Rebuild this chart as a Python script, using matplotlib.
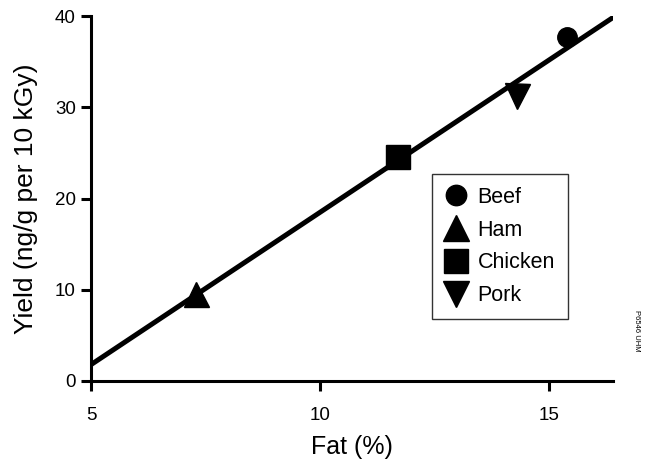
import numpy as np
import matplotlib
matplotlib.use("Agg")
import matplotlib.pyplot as plt

plt.rcParams["font.family"] = ["Liberation Sans", "DejaVu Sans"]

# Fat content vs. yield for each meat
meats = ["Beef", "Ham", "Chicken", "Pork"]
fat_pct = [15.4, 7.3, 11.7, 14.3]
yield_ng = [37.7, 9.5, 24.6, 31.2]
markers = ["o", "^", "s", "v"]
marker_sizes = [14, 18, 17, 18]

x_ticks = [5, 10, 15]
y_ticks = [0, 10, 20, 30, 40]

fig = plt.figure(figsize=(6.6, 4.59), dpi=100)
ax = fig.add_axes([0.138, 0.170, 0.791, 0.795])

# least squares line through the four points
slope, intercept = np.polyfit(fat_pct, yield_ng, 1)
xl = np.array([5, 16.4])
ax.plot(xl, slope * xl + intercept, color="black", lw=3.6, solid_capstyle="round", zorder=2)

for name, fx, fy, m, ms in zip(meats, fat_pct, yield_ng, markers, marker_sizes):
    ax.plot(fx, fy, linestyle="none", marker=m, markersize=ms, color="black",
            label=name, zorder=3)

ax.set_xlim(5, 16.4)
ax.set_ylim(0, 40)
ax.set_xticks(x_ticks)
ax.set_yticks(y_ticks)

for side in ["top", "right"]:
    ax.spines[side].set_visible(False)
for side in ["left", "bottom"]:
    ax.spines[side].set_linewidth(2.2)
ax.tick_params(axis="both", direction="out", length=7, width=2.2, labelsize=13.5)
ax.tick_params(axis="x", pad=12)
ax.tick_params(axis="y", pad=4)

ax.set_xlabel("Fat (%)", fontsize=18, labelpad=8)
ax.set_ylabel("Yield (ng/g per 10 kGy)", fontsize=19, labelpad=12)

leg = ax.legend(loc="upper left", bbox_to_anchor=(0.633, 0.597), fontsize=15.5,
                frameon=True, fancybox=False, edgecolor="black", handlelength=1.0,
                handletextpad=0.5, labelspacing=0.55, borderpad=0.6,
                markerscale=1.05)
leg.get_frame().set_linewidth(1.0)

fig.text(0.965, 0.28, "P6546 UHM", rotation=270, fontsize=5.5, ha="center", va="center")

fig.savefig("out.png", dpi=100, facecolor="white")
